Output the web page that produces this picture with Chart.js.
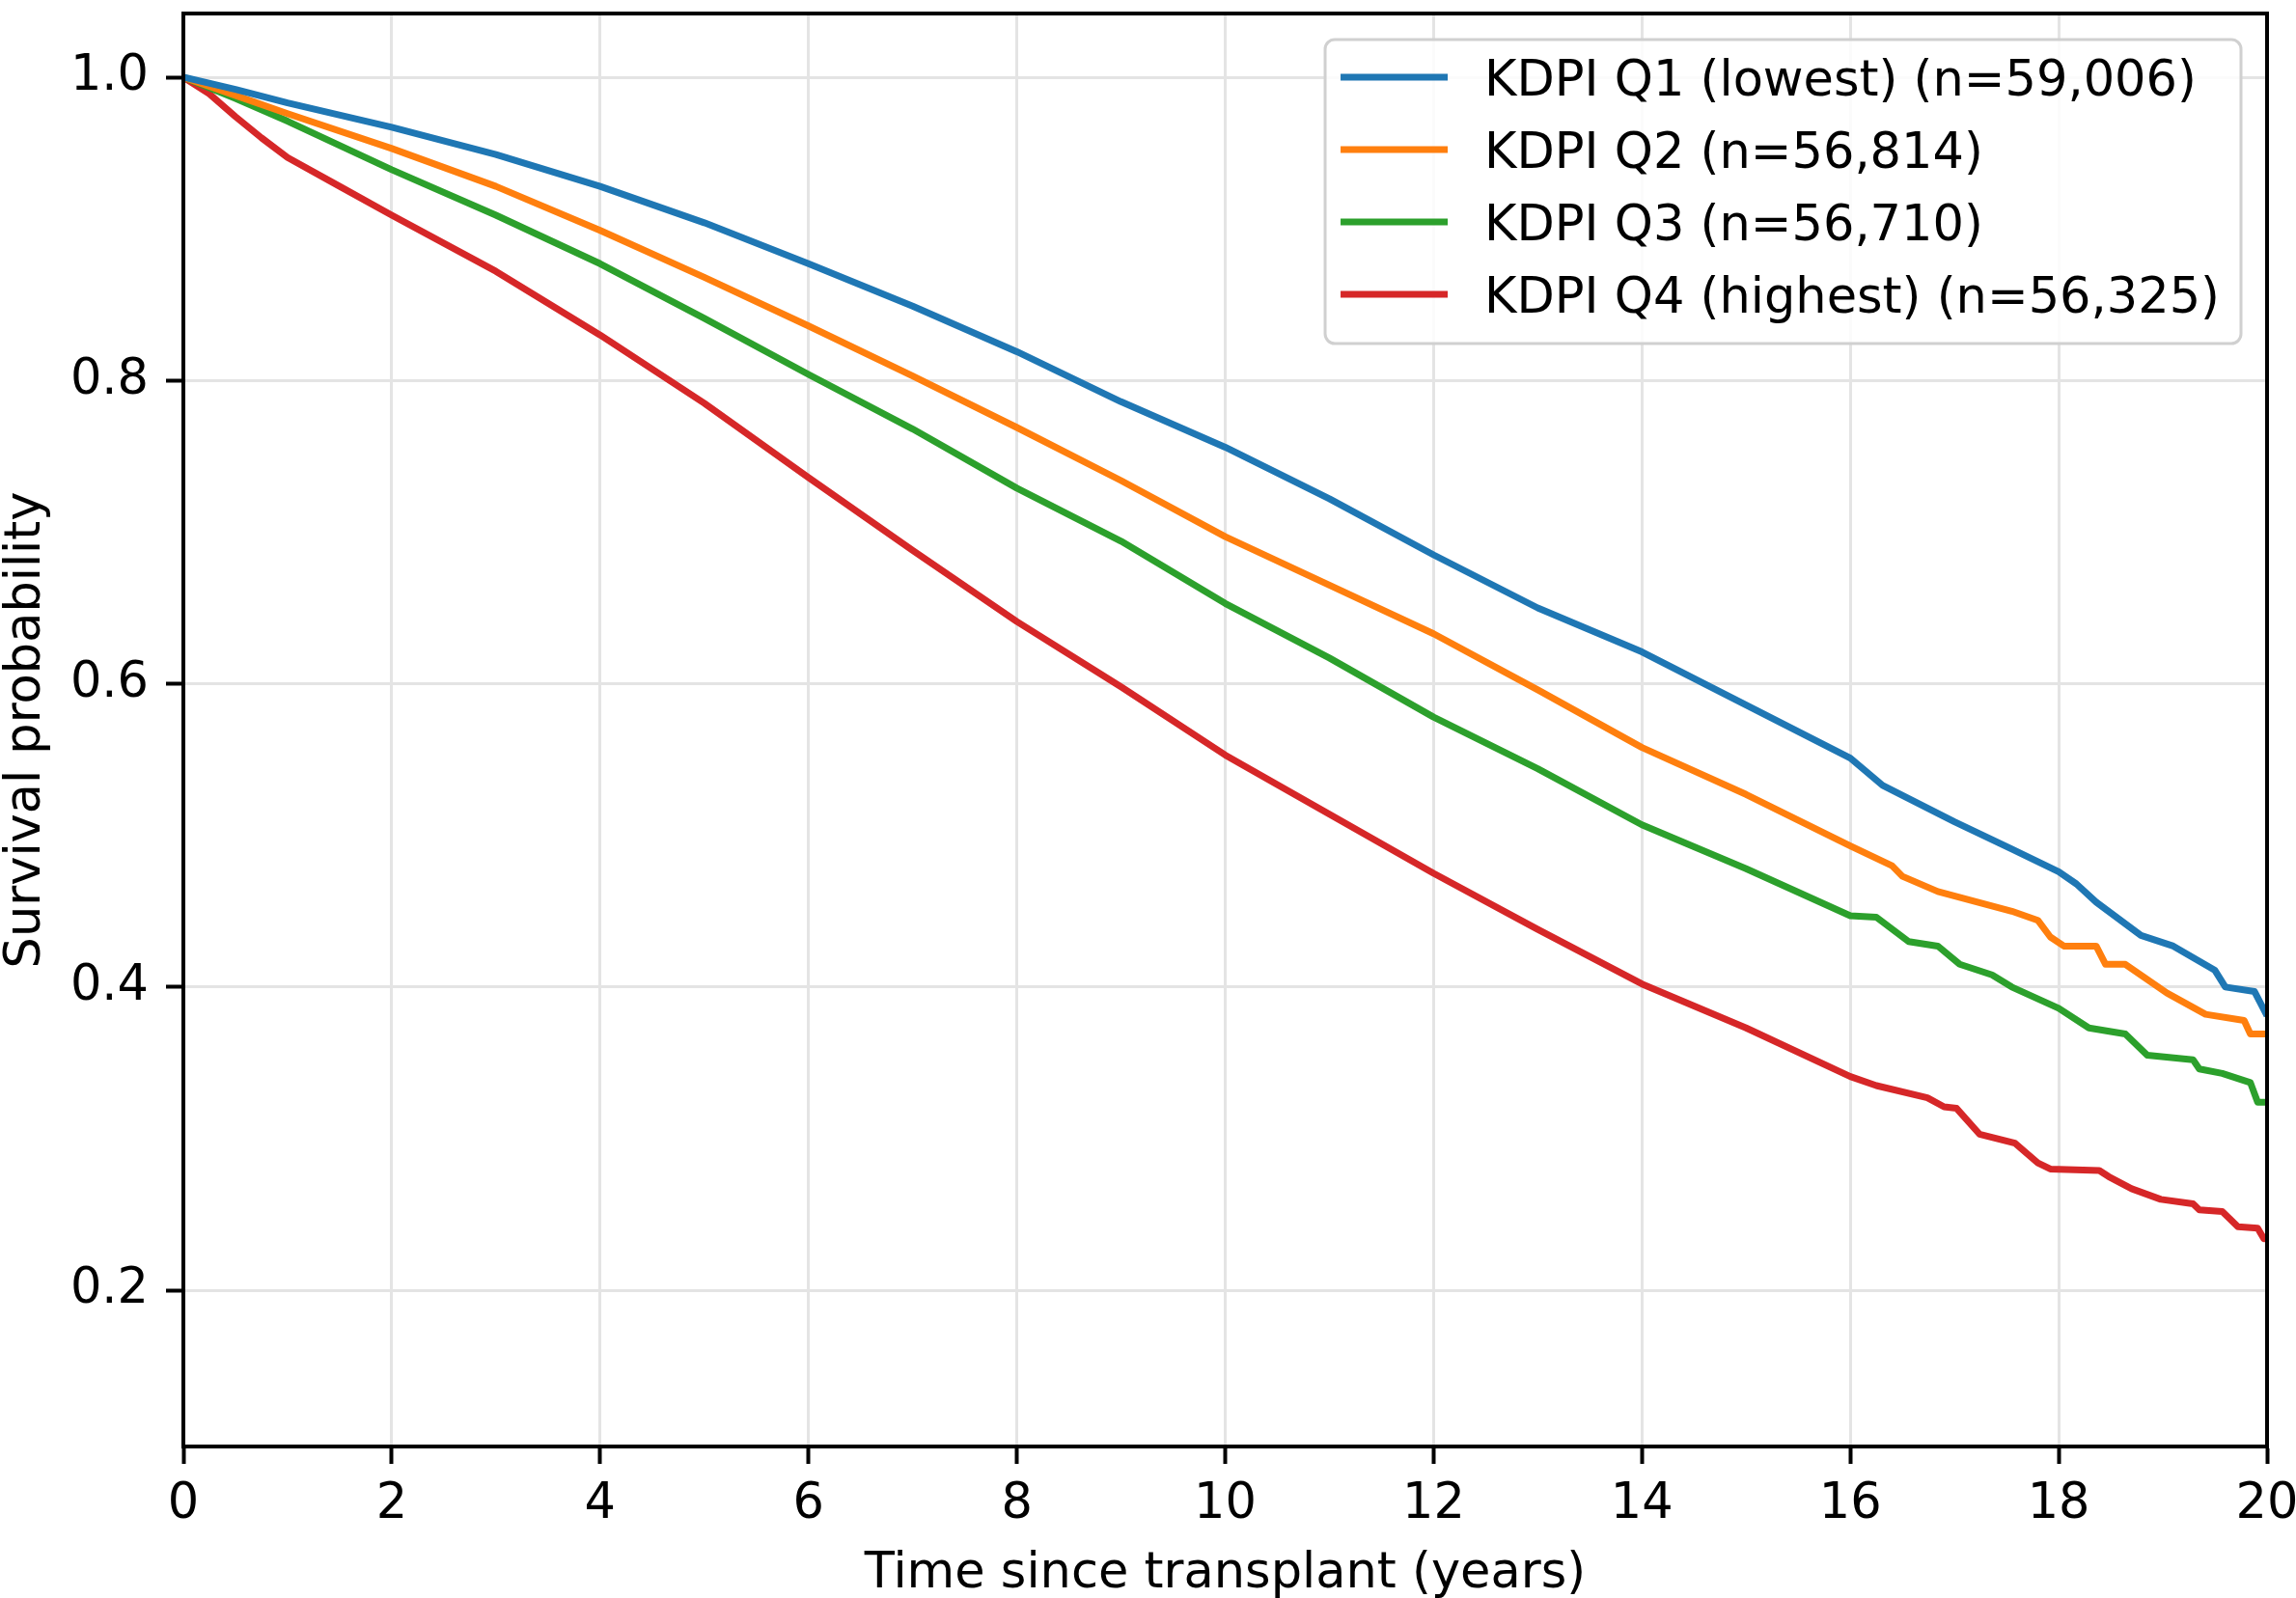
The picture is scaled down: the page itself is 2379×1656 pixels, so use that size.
<!DOCTYPE html>
<html>
<head>
<meta charset="utf-8">
<title>KDPI survival</title>
<script src="https://cdn.jsdelivr.net/npm/chart.js@4.4.1/dist/chart.umd.min.js"></script>
<style>
    html, body { margin: 0; padding: 0; background: #fff; }
    #kmChart { display: block; }
</style>
</head>
<body>
<canvas id="kmChart" width="2379" height="1656"></canvas>
<script>
// Kaplan-Meier curves per KDPI quartile
const q1Years = [0, 0.5, 1, 2, 3, 4, 5, 6, 7, 8, 9, 10, 11, 12, 13, 14, 15, 16, 16.31, 17, 17.55, 18, 18.17, 18.36, 18.79, 19.1, 19.5, 19.6, 19.88, 20];
const q1Surv  = [1.0, 0.992, 0.983, 0.967, 0.949, 0.928, 0.904, 0.877, 0.849, 0.819, 0.786, 0.756, 0.722, 0.685, 0.650, 0.621, 0.586, 0.551, 0.533, 0.509, 0.491, 0.476, 0.468, 0.456, 0.434, 0.427, 0.411, 0.400, 0.397, 0.381];

const q2Years = [0, 0.5, 1, 2, 3, 4, 5, 6, 7, 8, 9, 10, 11, 12, 13, 14, 15, 16, 16.4, 16.5, 16.84, 17.55, 17.8, 17.92, 18.05, 18.36, 18.45, 18.64, 19.04, 19.41, 19.78, 19.84, 20];
const q2Surv  = [1.0, 0.988, 0.976, 0.953, 0.928, 0.899, 0.868, 0.836, 0.803, 0.769, 0.734, 0.697, 0.665, 0.633, 0.596, 0.558, 0.527, 0.493, 0.480, 0.473, 0.463, 0.450, 0.444, 0.433, 0.427, 0.427, 0.415, 0.415, 0.396, 0.382, 0.378, 0.369, 0.369];

const q3Years = [0, 0.5, 1, 2, 3, 4, 5, 6, 7, 8, 9, 10, 11, 12, 13, 14, 15, 16, 16.25, 16.56, 16.84, 17.05, 17.36, 17.55, 18, 18.29, 18.64, 18.85, 19.29, 19.35, 19.57, 19.84, 19.91, 20];
const q3Surv  = [1.0, 0.986, 0.971, 0.939, 0.909, 0.877, 0.841, 0.804, 0.768, 0.729, 0.694, 0.653, 0.617, 0.578, 0.544, 0.507, 0.478, 0.447, 0.446, 0.430, 0.427, 0.415, 0.408, 0.400, 0.386, 0.373, 0.369, 0.355, 0.352, 0.346, 0.343, 0.337, 0.324, 0.324];

const q4Years = [0, 0.25, 0.5, 0.75, 1, 1.5, 2, 3, 4, 5, 6, 7, 8, 9, 10, 11, 12, 13, 14, 15, 16, 16.25, 16.74, 16.9, 17.02, 17.24, 17.58, 17.8, 17.92, 18.39, 18.48, 18.7, 18.98, 19.29, 19.35, 19.57, 19.63, 19.72, 19.91, 19.97, 20];
const q4Surv  = [1.0, 0.989, 0.974, 0.960, 0.947, 0.928, 0.909, 0.872, 0.830, 0.785, 0.736, 0.688, 0.641, 0.598, 0.553, 0.514, 0.475, 0.438, 0.402, 0.373, 0.341, 0.335, 0.327, 0.321, 0.320, 0.303, 0.297, 0.284, 0.280, 0.279, 0.275, 0.267, 0.260, 0.257, 0.253, 0.252, 0.248, 0.242, 0.241, 0.234, 0.234];

const seriesLabels = [
    'KDPI Q1 (lowest) (n=59,006)',
    'KDPI Q2 (n=56,814)',
    'KDPI Q3 (n=56,710)',
    'KDPI Q4 (highest) (n=56,325)'
];
const seriesColors = ['#1f77b4', '#ff7f0e', '#2ca02c', '#d62728'];

const xTicks = [0, 2, 4, 6, 8, 10, 12, 14, 16, 18, 20];
const yTicks = [0.2, 0.4, 0.6, 0.8, 1.0];

const FONT = 'DejaVu Sans';
const FS = 51;

Chart.defaults.font.family = FONT;
Chart.defaults.font.size = FS;
Chart.defaults.color = '#000';

function toPoints(years, surv) {
    return years.map((t, i) => ({ x: t, y: surv[i] }));
}

const allYears = [q1Years, q2Years, q3Years, q4Years];
const allSurv = [q1Surv, q2Surv, q3Surv, q4Surv];

const datasets = seriesLabels.map((label, i) => ({
    label: label,
    data: toPoints(allYears[i], allSurv[i]),
    borderColor: seriesColors[i],
    backgroundColor: seriesColors[i],
    borderWidth: 7,
    borderJoinStyle: 'round',
    pointRadius: 0,
    tension: 0,
    fill: false
}));

// top/right spines like the matplotlib box
const framePlugin = {
    id: 'frame',
    afterDatasetsDraw(chart) {
        const { ctx, chartArea: a } = chart;
        ctx.save();
        ctx.strokeStyle = '#000';
        ctx.lineWidth = 4;
        ctx.strokeRect(a.left, a.top, a.right - a.left, a.bottom - a.top);
        ctx.restore();
    }
};

// legend box in the upper right corner of the axes
const boxLegend = {
    id: 'boxLegend',
    afterDraw(chart) {
        const { ctx, chartArea: a } = chart;
        const sets = chart.data.datasets;
        ctx.save();
        ctx.font = FS + 'px "' + FONT + '"';
        const textW = Math.max(...sets.map(d => ctx.measureText(d.label).width));
        const padL = 16, handle = 111, gap = 38, padR = 22;
        const rowH = 75, padT = 39, padB = 51;
        const w = padL + handle + gap + textW + padR;
        const h = padT + rowH * (sets.length - 1) + padB;
        const x0 = a.right - 27 - w;
        const y0 = a.top + 27;

        ctx.beginPath();
        ctx.roundRect(x0, y0, w, h, 10);
        ctx.fillStyle = 'rgba(255,255,255,0.85)';
        ctx.fill();
        ctx.strokeStyle = '#d0d0d0';
        ctx.lineWidth = 3;
        ctx.stroke();

        sets.forEach((d, i) => {
            const cy = y0 + padT + i * rowH;
            ctx.strokeStyle = d.borderColor;
            ctx.lineWidth = 7;
            ctx.beginPath();
            ctx.moveTo(x0 + padL, cy);
            ctx.lineTo(x0 + padL + handle, cy);
            ctx.stroke();
            ctx.fillStyle = '#000';
            ctx.textAlign = 'left';
            ctx.textBaseline = 'alphabetic';
            ctx.fillText(d.label, x0 + padL + handle + gap, cy + 19);
        });
        ctx.restore();
    }
};

const ctx = document.getElementById('kmChart').getContext('2d');
const kmChart = new Chart(ctx, {
    type: 'line',
    data: { datasets: datasets },
    options: {
        responsive: false,
        animation: false,
        devicePixelRatio: 1,
        layout: { padding: { top: 14, right: 30, left: 0, bottom: 0 } },
        plugins: {
            legend: { display: false },
            tooltip: { enabled: false }
        },
        scales: {
            x: {
                type: 'linear',
                min: 0,
                max: 20,
                afterBuildTicks: scale => { scale.ticks = xTicks.map(v => ({ value: v })); },
                afterFit: scale => {
                    scale.height = 157;
                    scale.paddingLeft = 0;
                    scale.paddingRight = 0;
                },
                ticks: {
                    padding: 12,
                    maxRotation: 0,
                    autoSkip: false,
                    callback: v => String(v)
                },
                grid: {
                    color: '#e4e4e4',
                    lineWidth: 3,
                    tickColor: '#000',
                    tickWidth: 4,
                    tickLength: 18
                },
                border: { color: '#000', width: 4 },
                title: {
                    display: true,
                    text: 'Time since transplant (years)',
                    padding: { top: 0, bottom: -6 }
                }
            },
            y: {
                type: 'linear',
                min: 0.097,
                max: 1.042,
                afterBuildTicks: scale => { scale.ticks = yTicks.map(v => ({ value: v })); },
                afterFit: scale => {
                    scale.width = 190;
                    scale.paddingTop = 0;
                    scale.paddingBottom = 0;
                },
                ticks: {
                    padding: 18,
                    autoSkip: false,
                    callback: v => v.toFixed(1)
                },
                grid: {
                    color: '#e4e4e4',
                    lineWidth: 3,
                    tickColor: '#000',
                    tickWidth: 4,
                    tickLength: 18
                },
                border: { color: '#000', width: 4 },
                title: {
                    display: true,
                    text: 'Survival probability',
                    padding: { top: -3, bottom: 0 }
                }
            }
        }
    },
    plugins: [framePlugin, boxLegend]
});
</script>
</body>
</html>
